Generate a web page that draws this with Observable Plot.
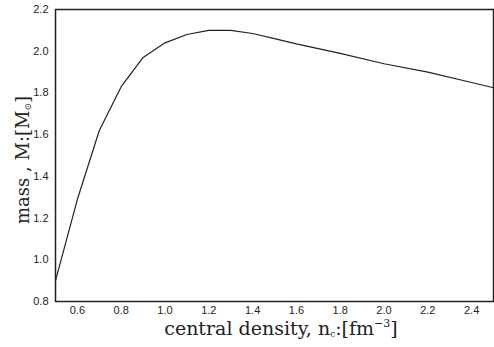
<!DOCTYPE html>
<html><head><meta charset="utf-8">
<script src="https://cdn.jsdelivr.net/npm/d3@7"></script>
<script src="https://cdn.jsdelivr.net/npm/@observablehq/plot@0.6"></script>
<style>
body{margin:0;background:#fff;}
svg{display:block;}
</style>
</head><body>
<div id="chart"></div>
<script>
const density = [0.5, 0.6, 0.7, 0.8, 0.9, 1.0, 1.1, 1.2, 1.3, 1.4, 1.5, 1.6, 1.8, 2.0, 2.2, 2.4, 2.5];
const mass    = [0.90, 1.29, 1.62, 1.83, 1.97, 2.04, 2.08, 2.10, 2.10, 2.085, 2.06, 2.035, 1.99, 1.94, 1.90, 1.85, 1.825];
const xTicks = [0.6, 0.8, 1.0, 1.2, 1.4, 1.6, 1.8, 2.0, 2.2, 2.4];
const yTicks = [0.8, 1.0, 1.2, 1.4, 1.6, 1.8, 2.0, 2.2];

const data = density.map((d, i) => ({x: d, y: mass[i]}));

const chart = Plot.plot({
  width: 494,
  height: 347,
  marginLeft: 55,
  marginRight: 1,
  marginTop: 9,
  marginBottom: 46,
  style: {fontFamily: "'Liberation Sans', Arial, sans-serif", fontSize: "11px", color: "#222", background: "#fff"},
  x: {domain: [0.5, 2.5], ticks: xTicks, tickFormat: d3.format(".1f"), tickSize: 0, tickPadding: 5, label: null},
  y: {domain: [0.8, 2.2], ticks: yTicks, tickFormat: d3.format(".1f"), tickSize: 0, tickPadding: 7, label: null},
  marks: [
    Plot.frame({stroke: "#222", strokeWidth: 1.5}),
    Plot.line(data, {x: "x", y: "y", stroke: "#222", strokeWidth: 1.2})
  ]
});

const svg = d3.select(chart);
const serif = "'DejaVu Serif', 'Liberation Serif', serif";
const xl = svg.append("text")
  .attr("x", 281).attr("y", 335)
  .attr("text-anchor", "middle")
  .attr("font-family", serif).attr("font-size", 19).attr("fill", "#222");
xl.append("tspan").text("central density, n");
xl.append("tspan").attr("font-size", 9).attr("dy", 2).text("c");
xl.append("tspan").attr("dy", -2).text(":[fm");
xl.append("tspan").attr("font-size", 11).attr("dy", -8).text("−3");
xl.append("tspan").attr("dy", 8).text("]");

const yl = svg.append("text")
  .attr("transform", "translate(29,160) rotate(-90)")
  .attr("text-anchor", "middle")
  .attr("font-family", serif).attr("font-size", 18).attr("fill", "#222");
yl.append("tspan").text("mass , M:[M");
yl.append("tspan").attr("font-size", 9).attr("dy", 2).text("⊙");
yl.append("tspan").attr("dy", -2).text("]");

document.getElementById("chart").appendChild(chart);
</script>
</body></html>
